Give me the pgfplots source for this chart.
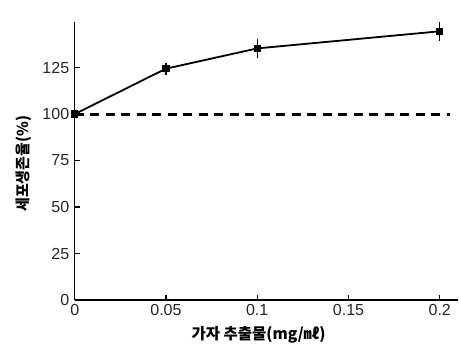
\documentclass[border=0pt]{standalone}
\usepackage{fontspec}
\setmainfont{Liberation Sans}
\newfontfamily\kr{Noto Sans CJK KR}
\usepackage{pgfplots}
\pgfplotsset{compat=1.18}
\begin{document}
\begin{tikzpicture}
\begin{axis}[
  scale only axis,
  width=383.3bp, height=278bp,
  xmin=0, xmax=0.21, ymin=0, ymax=149.5,
  axis lines=left,
  axis line style={-, line width=1.3bp},
  tick align=inside,
  major tick length=5bp,
  tick style={line width=1.3bp, black},
  xtick={0,0.05,0.1,0.15,0.2},
  xticklabels={0,0.05,0.1,0.15,0.2},
  ytick={0,25,50,75,100,125},
  scaled x ticks=false,
  /pgf/number format/assume math mode=true,
  ticklabel style={font=\fontsize{16bp}{18bp}\selectfont, text=black!85},
  xticklabel style={yshift=-1bp},
  yticklabel style={xshift=-2bp},
  xlabel={\kr\bfseries 가자 추출물(mg/㎖)},
  ylabel={\kr\bfseries 세포생존율(\%)},
  xlabel style={at={(rel axis cs:0.4795,0)}, anchor=center, yshift=-35bp, font=\fontsize{15.5bp}{18bp}\selectfont},
  ylabel style={at={(rel axis cs:0,0.49)}, anchor=center, yshift=51bp, font=\fontsize{15bp}{18bp}\selectfont},
  clip=false,
]
\addplot[black, line width=3bp, dash pattern=on 9bp off 6.5bp] coordinates {(0,100) (0.2055,100)};
\addplot[black, line width=1.8bp, mark=square*, mark size=2.8bp,
  error bars/.cd, y dir=both, y explicit,
  error mark options={black, mark size=4bp, line width=1.2bp},
  error bar style={line width=1.2bp}]
  coordinates {
  (0,100) +- (0,1)
  (0.05,124.4) +- (0,1)
  (0.1,135.3) +- (0,3)
  (0.2,144.5) +- (0,2.9)
  };
\path[use as bounding box] (rel axis cs:0,0) ++(-74.7bp,-52bp) rectangle ++(460bp,352bp);
\end{axis}
\end{tikzpicture}
\end{document}
